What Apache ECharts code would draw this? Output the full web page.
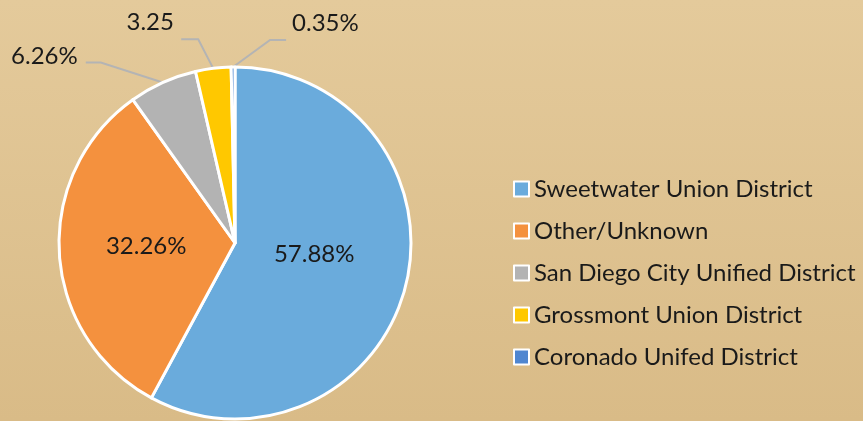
<!DOCTYPE html>
<html>
<head>
<meta charset="utf-8">
<script src="https://cdn.jsdelivr.net/npm/echarts@6/dist/echarts.min.js"></script>
<style>
  html, body { margin: 0; padding: 0; }
  #chart { width: 863px; height: 421px; }
</style>
</head>
<body>
<div id="chart"></div>
<script>
var names = ['Sweetwater Union District', 'Other/Unknown', 'San Diego City Unified District', 'Grossmont Union District', 'Coronado Unifed District']
var values = [57.88, 32.26, 6.26, 3.25, 0.35]
var labels = ['57.88%', '32.26%', '6.26%', '3.25', '0.35%']
var colors = ['#6aabdc', '#f4913e', '#b3b3b3', '#ffc800', '#4f86d0']

// label tweaks: inside labels get a nudge, outside ones a bent leader line (offsets from slice edge)
var leader = {
  0: { nudge: [-9, -11] },
  1: { nudge: [2, -2] },
  2: { bend: [-62, -20], end: [-77, -20], text: [-85, -26], align: 'right' },
  3: { bend: [-15, -29], end: [-32, -29], text: [-63, -46], align: 'center' },
  4: { bend: [37, -27], end: [53, -27], text: [59, -44], align: 'left' }
}

var data = []
for (var i = 0; i < values.length; i++) {
  var d = { name: names[i], value: values[i], itemStyle: { color: colors[i] } }
  if (i >= 2) {
    d.label = { position: 'outside', overflow: 'none', edgeDistance: 0 }
    d.labelLine = { show: true }
  }
  data.push(d)
}

var myChart = echarts.init(document.getElementById('chart'))
var option = {
  backgroundColor: {
    type: 'linear', x: 0, y: 0, x2: 0, y2: 1,
    colorStops: [{ offset: 0, color: '#e4ca9b' }, { offset: 1, color: '#d9bb87' }]
  },
  animation: false,
  legend: {
    orient: 'vertical',
    left: 508,
    top: 172,
    itemWidth: 15,
    itemHeight: 15,
    itemGap: 18,
    icon: 'rect',
    itemStyle: { borderColor: '#ffffff', borderWidth: 2 },
    textStyle: { fontFamily: 'Lato', fontSize: 24, color: '#1a1a1a', lineHeight: 24 },
    data: names
  },
  series: [
    {
      type: 'pie',
      center: [235, 243],
      radius: 176,
      startAngle: 90,
      clockwise: true,
      itemStyle: { borderColor: '#ffffff', borderWidth: 3 },
      label: {
        position: 'inside',
        fontFamily: 'Lato',
        fontSize: 24,
        color: '#1a1a1a',
        overflow: 'none',
        formatter: function (p) { return labels[p.dataIndex] }
      },
      labelLine: { show: false, lineStyle: { color: '#b4b4b4', width: 2 } },
      labelLayout: function (p) {
        var l = leader[p.dataIndex]
        if (!l) return {}
        if (l.nudge) return { dx: l.nudge[0], dy: l.nudge[1] }
        if (!p.labelLinePoints) return {}
        var a = p.labelLinePoints[0]
        return {
          x: a[0] + l.text[0],
          y: a[1] + l.text[1],
          width: 100,
          align: l.align,
          verticalAlign: 'middle',
          labelLinePoints: [
            [a[0], a[1]],
            [a[0] + l.bend[0], a[1] + l.bend[1]],
            [a[0] + l.end[0], a[1] + l.end[1]]
          ]
        }
      },
      data: data
    }
  ]
}
myChart.setOption(option)
</script>
</body>
</html>
